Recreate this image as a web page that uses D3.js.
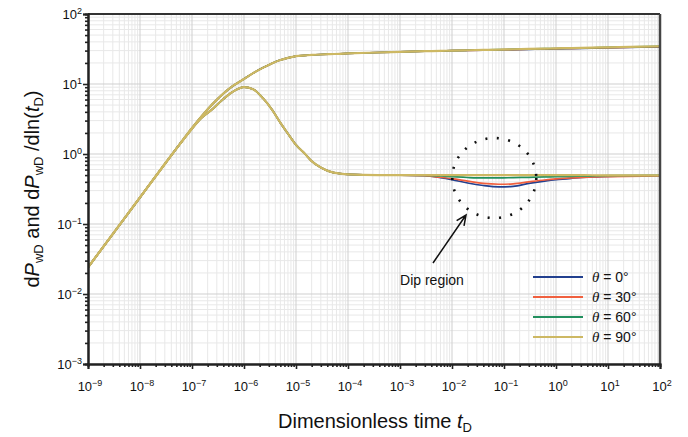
<!DOCTYPE html>
<html>
<head>
<meta charset="utf-8">
<script src="https://cdn.jsdelivr.net/npm/d3@7"></script>
<style>
  html, body { margin: 0; padding: 0; background: #fff; }
  svg { display: block; font-family: "Liberation Sans", Arial, sans-serif; }
</style>
</head>
<body>
<svg id="chart" width="688" height="437"></svg>
<script>
// ---------------- DATA ----------------
const thetaLabels = ["0°", "30°", "60°", "90°"];
const seriesColors = ["#22408f", "#f0603f", "#22905f", "#cdb863"];

const xTickExps = [-9, -8, -7, -6, -5, -4, -3, -2, -1, 0, 1, 2];
const yTickExps = [-3, -2, -1, 0, 1, 2];

// early-time (shared by all θ)
const tEarly = [1e-9, 1e-8, 3e-8, 6e-8, 1e-7, 1.5e-7, 2.5e-7, 4e-7, 6e-7, 1e-6, 1.5e-6, 2.3e-6, 3.5e-6, 5e-6, 7e-6, 1e-5, 1.5e-5, 2e-5, 3e-5, 4.5e-5, 7e-5, 1e-4, 3.8e-4, 1e-3];
const pEarly = [0.024, 0.24, 0.72, 1.43, 2.35, 3.4, 5.2, 7.3, 9.3, 11.8, 14.3, 17.0, 19.8, 22.0, 23.6, 25.0, 25.6, 26.0, 26.4, 26.7, 27.0, 27.3, 28.2, 28.8];
const dEarly = [0.024, 0.24, 0.72, 1.42, 2.3, 3.25, 4.4, 6.1, 7.7, 9.0, 8.4, 6.3, 4.25, 2.8, 1.95, 1.35, 1.0, 0.79, 0.64, 0.56, 0.525, 0.51, 0.50, 0.50];

// late-time (per θ)
const tLate = [3e-3, 6e-3, 1e-2, 2e-2, 4e-2, 8e-2, 0.15, 0.3, 0.6, 1, 2, 5, 10, 100];
const dLate0  = [0.49, 0.46, 0.43, 0.385, 0.355, 0.34, 0.345, 0.38, 0.41, 0.43, 0.45, 0.47, 0.48, 0.49];
const dLate30 = [0.49, 0.465, 0.445, 0.41, 0.38, 0.37, 0.375, 0.40, 0.425, 0.44, 0.455, 0.47, 0.475, 0.485];
const dLate60 = [0.495, 0.485, 0.475, 0.462, 0.455, 0.455, 0.46, 0.465, 0.47, 0.475, 0.48, 0.485, 0.49, 0.495];
const dLate90 = [0.50, 0.50, 0.50, 0.50, 0.50, 0.50, 0.50, 0.50, 0.50, 0.50, 0.50, 0.497, 0.495, 0.495];
const pLate0  = [29.4, 29.7, 29.95, 30.25, 30.5, 30.75, 30.95, 31.25, 31.55, 31.8, 32.1, 32.55, 32.85, 33.95];
const pLate30 = [29.4, 29.7, 29.97, 30.28, 30.55, 30.83, 31.05, 31.37, 31.68, 31.93, 32.25, 32.68, 33.0, 34.1];
const pLate60 = [29.4, 29.7, 29.99, 30.33, 30.65, 30.97, 31.25, 31.58, 31.92, 32.16, 32.5, 32.94, 33.28, 34.42];
const pLate90 = [29.4, 29.7, 30.0, 30.35, 30.7, 31.05, 31.35, 31.7, 32.05, 32.3, 32.65, 33.1, 33.45, 34.6];

const dLate = [dLate0, dLate30, dLate60, dLate90];
const pLate = [pLate0, pLate30, pLate60, pLate90];

// annotation anchor points (data coordinates)
const dipCenter = [0.065, 0.454];
const arrowTip = [0.0186, 0.1345];
const arrowTail = [0.00431, 0.0277];
const dipLabelPos = [0.00412, 0.01345];

// ---------------- CHART ----------------
const svg = d3.select("#chart");
const L = 88, R = 660, T = 14, B = 364;

const x = d3.scaleLog().domain([1e-9, 1e2]).range([L, R]);
const y = d3.scaleLog().domain([1e-3, 1e2]).range([B, T]);

// grid
const minorX = [], minorY = [];
for (let e = -9; e < 2; e++) for (let m = 2; m <= 9; m++) minorX.push(m * Math.pow(10, e));
for (let e = -3; e < 2; e++) for (let m = 2; m <= 9; m++) minorY.push(m * Math.pow(10, e));
const majorX = xTickExps.map(e => Math.pow(10, e));
const majorY = yTickExps.map(e => Math.pow(10, e));

const grid = svg.append("g");
grid.selectAll(".gxm").data(minorX).join("line")
  .attr("x1", d => x(d)).attr("x2", d => x(d)).attr("y1", T).attr("y2", B)
  .attr("stroke", "#e8e8e8").attr("stroke-width", 1);
grid.selectAll(".gym").data(minorY).join("line")
  .attr("x1", L).attr("x2", R).attr("y1", d => y(d)).attr("y2", d => y(d))
  .attr("stroke", "#e8e8e8").attr("stroke-width", 1);
grid.selectAll(".gxM").data(majorX).join("line")
  .attr("x1", d => x(d)).attr("x2", d => x(d)).attr("y1", T).attr("y2", B)
  .attr("stroke", "#cfcfcf").attr("stroke-width", 1);
grid.selectAll(".gyM").data(majorY).join("line")
  .attr("x1", L).attr("x2", R).attr("y1", d => y(d)).attr("y2", d => y(d))
  .attr("stroke", "#cfcfcf").attr("stroke-width", 1);

// clip
svg.append("defs").append("clipPath").attr("id", "clip")
  .append("rect").attr("x", L).attr("y", T).attr("width", R - L).attr("height", B - T);

const line = d3.line().x(d => x(d[0])).y(d => y(d[1])).curve(d3.curveMonotoneX);

const curves = svg.append("g").attr("clip-path", "url(#clip)");
const tAll = tEarly.concat(tLate);
const curveWidths = [1.7, 1.7, 1.7, 2.2];
for (let i = 0; i < 4; i++) {
  const pv = pEarly.concat(pLate[i]);
  const dv = dEarly.concat(dLate[i]);
  curves.append("path").datum(tAll.map((t, k) => [t, pv[k]]))
    .attr("d", line).attr("fill", "none").attr("stroke", seriesColors[i]).attr("stroke-width", curveWidths[i]);
  curves.append("path").datum(tAll.map((t, k) => [t, dv[k]]))
    .attr("d", line).attr("fill", "none").attr("stroke", seriesColors[i]).attr("stroke-width", curveWidths[i]);
}

// frame (top & right)
svg.append("line").attr("x1", L).attr("x2", R).attr("y1", T).attr("y2", T)
  .attr("stroke", "#333").attr("stroke-width", 2);
svg.append("line").attr("x1", R).attr("x2", R).attr("y1", T).attr("y2", B)
  .attr("stroke", "#444").attr("stroke-width", 2.5);

// axes
const xMinorAxis = d3.axisBottom(x).tickValues(minorX).tickSize(3).tickFormat("");
const xMajorAxis = d3.axisBottom(x).tickValues(majorX).tickSize(5).tickFormat("");
const yMinorAxis = d3.axisLeft(y).tickValues(minorY).tickSize(3).tickFormat("");
const yMajorAxis = d3.axisLeft(y).tickValues(majorY).tickSize(5).tickFormat("");

function styleAxis(g) {
  g.select(".domain").attr("stroke", "#222").attr("stroke-width", 2);
  g.selectAll(".tick line").attr("stroke", "#222").attr("stroke-width", 1.6);
}
svg.append("g").attr("transform", `translate(0,${B})`).call(xMinorAxis).call(styleAxis);
svg.append("g").attr("transform", `translate(0,${B})`).call(xMajorAxis).call(styleAxis);
svg.append("g").attr("transform", `translate(${L},0)`).call(yMinorAxis).call(styleAxis);
svg.append("g").attr("transform", `translate(${L},0)`).call(yMajorAxis).call(styleAxis);

function supLabel(sel, e) {
  sel.append("tspan").text("10");
  sel.append("tspan").attr("font-size", 9).attr("dy", -5.5)
    .text(e < 0 ? "\u2212" + Math.abs(e) : String(e));
}

// x tick labels
xTickExps.forEach(e => {
  const t = svg.append("text").attr("x", x(Math.pow(10, e)) + 2).attr("y", 391)
    .attr("text-anchor", "middle").attr("font-size", 13).attr("fill", "#111");
  supLabel(t, e);
});
// y tick labels
yTickExps.forEach(e => {
  const t = svg.append("text").attr("x", 82).attr("y", y(Math.pow(10, e)) + 5)
    .attr("text-anchor", "end").attr("font-size", 13).attr("fill", "#111");
  supLabel(t, e);
});

// axis titles
const xt = svg.append("text").attr("x", 375).attr("y", 428).attr("text-anchor", "middle")
  .attr("font-size", 20).attr("fill", "#111");
xt.append("tspan").text("Dimensionless time ");
xt.append("tspan").attr("font-style", "italic").text("t");
xt.append("tspan").attr("font-size", 13).attr("dy", 4).text("D");

const yt = svg.append("text").attr("transform", "translate(39,189) rotate(-90)")
  .attr("text-anchor", "middle").attr("font-size", 20).attr("fill", "#111");
yt.append("tspan").text("d");
yt.append("tspan").attr("font-style", "italic").text("P");
yt.append("tspan").attr("font-size", 13).attr("dy", 4).text("wD");
yt.append("tspan").attr("dy", -4).text(" and d");
yt.append("tspan").attr("font-style", "italic").text("P");
yt.append("tspan").attr("font-size", 13).attr("dy", 4).text("wD");
yt.append("tspan").attr("dy", -4).text(" /dln(");
yt.append("tspan").attr("font-style", "italic").text("t");
yt.append("tspan").attr("font-size", 13).attr("dy", 4).text("D");
yt.append("tspan").attr("dy", -4).text(")");

// dip annotation
svg.append("ellipse").attr("cx", x(dipCenter[0])).attr("cy", y(dipCenter[1]))
  .attr("rx", 42).attr("ry", 40).attr("fill", "none").attr("stroke", "#111")
  .attr("stroke-width", 2.6).attr("stroke-dasharray", "2 9.5").attr("stroke-linecap", "butt");

const tx = x(arrowTip[0]), ty = y(arrowTip[1]);
const sx = x(arrowTail[0]), sy = y(arrowTail[1]);
const ang = Math.atan2(ty - sy, tx - sx);
const hl = 11, ha = 0.42;
svg.append("path")
  .attr("d", `M${sx},${sy}L${tx},${ty}` +
    `M${tx - hl * Math.cos(ang - ha)},${ty - hl * Math.sin(ang - ha)}L${tx},${ty}` +
    `L${tx - hl * Math.cos(ang + ha)},${ty - hl * Math.sin(ang + ha)}`)
  .attr("fill", "none").attr("stroke", "#111").attr("stroke-width", 1.5);

svg.append("text").attr("x", x(dipLabelPos[0])).attr("y", y(dipLabelPos[1]))
  .attr("text-anchor", "middle").attr("font-size", 14).attr("fill", "#111").text("Dip region");

// legend
const lg = svg.append("g");
thetaLabels.forEach((lab, i) => {
  const yy = 277 + i * 20;
  lg.append("line").attr("x1", 533).attr("x2", 583).attr("y1", yy).attr("y2", yy)
    .attr("stroke", seriesColors[i]).attr("stroke-width", 2);
  const t = lg.append("text").attr("x", 592).attr("y", yy + 5).attr("font-size", 14).attr("fill", "#111");
  t.append("tspan").attr("font-family", "'Liberation Serif', 'Times New Roman', serif")
    .attr("font-style", "italic").attr("font-size", 15).text("\u03B8");
  t.append("tspan").text(" = " + lab);
});
</script>
</body>
</html>
